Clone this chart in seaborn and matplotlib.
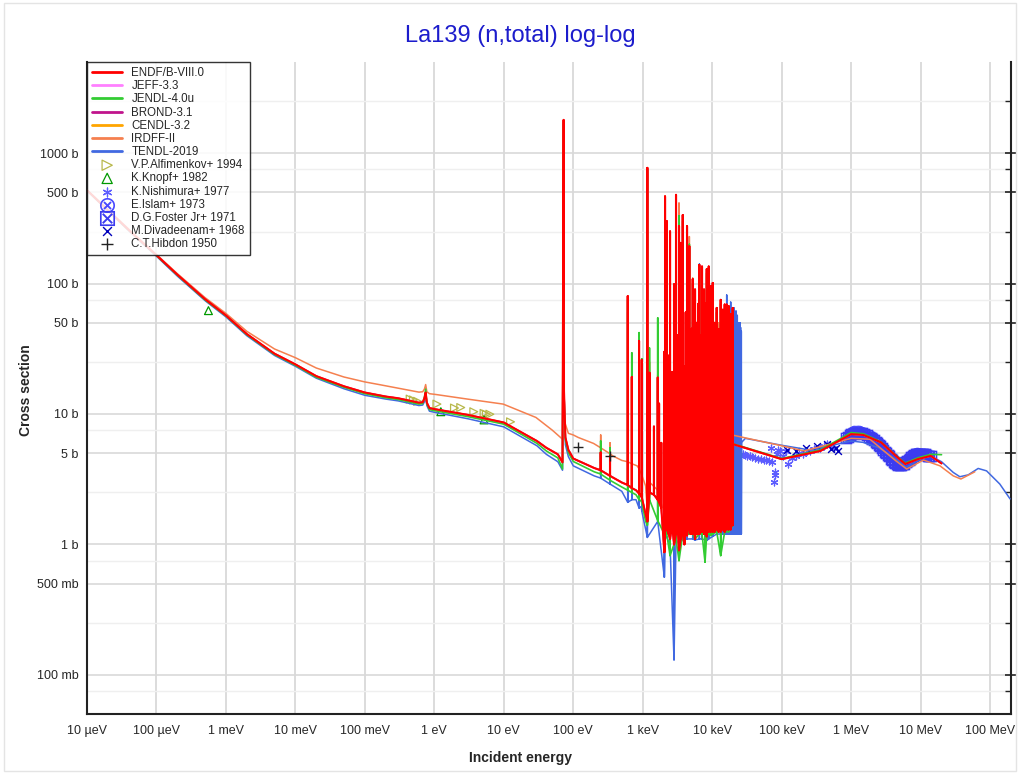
import matplotlib
matplotlib.use("Agg")
import numpy as np
import pandas as pd
import seaborn as sns
import matplotlib.pyplot as plt
from matplotlib.ticker import FixedLocator, NullFormatter, NullLocator
from matplotlib.patches import Rectangle

# energies in eV, cross sections in barn

# ENDF/B-VIII.0 smooth part
endf_E = [1e-5, 2e-5, 5e-5, 1e-4, 2e-4, 5e-4, 1e-3, 2e-3, 5e-3, 1e-2, 2e-2, 5e-2, 0.1, 0.2, 0.3,
          0.6, 0.68, 0.72, 0.75, 0.78, 0.85, 1.0, 3.0, 10, 30, 41,
          60, 70, 72.6, 73.5, 77, 85, 100, 200, 500, 800, 950, 1100,
          2.0e4, 1e5, 3.6e5, 1e6, 1.5e6, 2.7e6, 4.4e6, 6e6, 9.1e6, 1.4e7, 2e7]
endf_xs = [520, 365, 230, 165, 117, 76, 57, 41, 29, 24, 19.5, 16.3, 14.6, 13.6, 13.2,
           12.2, 12.3, 13.2, 14.6, 12.2, 11.1, 10.9, 9.85, 8.6, 6.2, 5.5,
           4.9, 4.25, 1800, 15, 6.6, 5.3, 4.55, 3.85, 2.98, 2.6, 2.35, 1.7,
           5.86, 4.5, 5.2, 7.0, 6.9, 6.05, 4.77, 4.13, 4.5, 4.77, 4.17]
# ENDF/B-VIII.0 resonances: energy, valley, peak
endf_res_E = [248, 338, 608, 695, 885, 968,
              1165, 1250, 1450, 1643, 1718, 1850, 2046, 2094, 2215, 2366, 2471, 2641, 2820, 3013,
              3150, 3327, 3523, 3650, 3764, 3970, 4150, 4340, 4686, 4909, 5080, 5241, 5450, 5658,
              5880, 6109, 6300, 6531, 6800, 7134, 7400, 7625, 7880, 8100, 8337, 8600, 8908, 9200,
              9512, 9800, 10165, 10500, 10860, 11200, 11600, 12000, 12400, 12800, 13250, 13700,
              14160, 14600, 15130, 15600, 16170, 16700, 17270, 17800, 18450, 19000, 19720]
endf_res_lo = [3.7, 3.35, 2.85, 2.7, 2.45, 2.3,
               1.5, 2.5, 2.4, 2.2, 2.1, 1.9, 0.87, 1.5, 1.3, 1.2, 1.1, 1.45, 1.0, 1.2,
               1.5, 0.9, 1.1, 1.6, 1.2, 1.0, 1.45, 1.17, 1.5, 1.2, 1.6, 1.2, 1.4, 1.1,
               1.55, 1.2, 1.45, 1.2, 1.35, 1.25, 1.6, 1.2, 1.45, 1.3, 1.15, 1.5, 1.25, 1.35,
               1.25, 1.5, 1.25, 1.4, 1.25, 1.55, 1.3, 1.45, 1.25, 1.3, 1.25, 1.5,
               1.3, 1.35, 1.25, 1.45, 1.3, 1.4, 1.3, 1.5, 1.3, 1.45, 1.4]
endf_res_hi = [5.06, 4.77, 80, 19.2, 36.3, 26,
               771, 20.7, 8, 19, 12, 6, 30, 465, 301, 28, 251, 21, 98.6, 479,
               40, 275, 205, 30, 335, 23, 60, 275, 193, 21, 45, 108, 35, 90,
               50, 28, 70, 139, 40, 135, 55, 90, 40, 70, 129, 50, 135, 45,
               95, 40, 101, 35, 50, 40, 65, 38, 44.6, 35, 75, 40,
               63, 35, 69, 45, 69, 40, 67, 45, 58, 50, 65]

# JENDL-4.0u
jendl_E = [1e-5, 2e-5, 5e-5, 1e-4, 2e-4, 5e-4, 1e-3, 2e-3, 5e-3, 1e-2, 2e-2, 5e-2, 0.1, 0.2, 0.3,
           0.6, 0.68, 0.72, 0.75, 0.78, 0.85, 1.0, 3.0, 10, 30, 41,
           60, 70, 72.6, 73.5, 77, 85, 100, 200, 500, 800, 950, 1100,
           2.0e4, 1e5, 3.6e5, 1e6, 1.5e6, 2.7e6, 4.4e6, 6e6, 9.1e6, 1.4e7, 2e7]
jendl_xs = [520, 364, 229, 164, 116, 75, 56.5, 40.5, 28.6, 23.6, 19.1, 16.0, 14.3, 13.3, 12.9,
            11.9, 12.0, 13.4, 15.5, 11.9, 10.8, 10.6, 9.55, 8.35, 5.95, 5.2,
            4.6, 3.78, 1750, 14, 6.3, 5.05, 4.32, 3.6, 2.75, 2.4, 2.15, 1.5,
            5.9, 4.55, 5.3, 7.2, 7.05, 6.1, 4.8, 4.2, 4.6, 4.9, 4.87]
jendl_res_E = [248, 338, 608, 695, 885, 968,
               1165, 1250, 1643, 2046, 2094, 2215, 2471, 2820, 3013, 3327, 3764, 4340, 4686, 5241,
               5658, 6531, 7134, 7880, 8337, 8908, 9512, 10165, 11600, 13250, 15130, 17270, 19720]
jendl_res_lo = [3.46, 3.1, 2.6, 2.5, 2.2, 2.1,
                1.4, 2.2, 1.52, 1.2, 1.3, 1.2, 0.82, 1.0, 1.1, 0.75, 1.2, 1.2, 1.2, 1.2,
                1.1, 1.2, 1.2, 0.73, 1.2, 1.2, 1.17, 1.2, 1.25, 0.82, 1.25, 1.25, 1.4]
jendl_res_hi = [6.2, 5.5, 75, 29.4, 42, 26.5,
                750, 32, 54.5, 30, 420, 280, 240, 95, 450, 330, 300, 260, 200, 100,
                85, 135, 125, 60, 120, 120, 95, 95, 60, 70, 60, 60, 55]

# TENDL-2019
tendl_E = [1e-5, 2e-5, 5e-5, 1e-4, 2e-4, 5e-4, 1e-3, 2e-3, 5e-3, 1e-2, 2e-2, 5e-2, 0.1, 0.2, 0.3,
           0.6, 0.68, 0.72, 0.75, 0.78, 0.85, 1.0, 3.0, 10, 30, 41,
           60, 70, 72.6, 73.5, 77, 85, 100, 200, 500, 800, 950, 1100,
           2.65e4, 3.0e4, 1e5, 2.5e5, 5e5, 1e6, 1.5e6, 2.5e6, 4.4e6, 6.2e6, 1e7, 1.4e7, 2e7,
           2.95e7, 3.67e7, 4.84e7, 6.74e7, 8.9e7, 1.38e8, 1.94e8]
tendl_xs = [515, 361, 227, 162, 114, 74, 55.5, 39.8, 28.1, 23.2, 18.8, 15.6, 13.9, 13.0, 12.6,
            11.6, 11.7, 12.4, 13.8, 11.6, 10.5, 10.3, 9.2, 7.96, 5.7, 4.9,
            4.3, 3.7, 1700, 12, 5.8, 4.7, 4.0, 3.35, 2.55, 2.2, 1.95, 1.3,
            6.05, 6.5, 5.75, 5.3, 5.7, 6.2, 6.05, 5.5, 4.5, 3.9, 4.5, 4.75, 4.3,
            3.56, 3.3, 3.41, 3.82, 3.66, 2.9, 2.23]
tendl_res_E = [248, 338, 608, 695, 885, 968,
               1165, 1643, 2046, 2094, 2471, 2820, 3013, 3327, 3764, 4340, 5241, 5658, 6531, 7134,
               8337, 8908, 10165, 11600, 13250, 14160, 15130, 16170, 17270, 18450, 19200, 19720,
               20100, 20590, 21000, 21500, 21990, 22500, 22950, 23500, 24060, 24500, 25100, 25600, 26230]
tendl_res_lo = [3.22, 2.9, 2.1, 2.2, 1.9, 1.8,
                1.13, 1.5, 0.56, 1.2, 1.0, 0.13, 1.1, 1.0, 1.1, 1.1, 1.1, 1.08, 1.1, 1.1,
                1.07, 1.1, 1.15, 1.2, 1.2, 1.2, 1.2, 1.2, 1.2, 1.2, 1.2, 1.25,
                1.2, 1.25, 1.2, 1.25, 1.2, 1.25, 1.2, 1.25, 1.2, 1.25, 1.2, 1.25, 1.2]
tendl_res_hi = [3.6, 4.0, 60, 18, 30, 24,
                700, 15, 25, 420, 230, 90, 430, 260, 335, 250, 100, 85, 141, 120,
                115, 120, 90, 60, 70, 60, 65, 81.6, 62, 72, 55, 65,
                55, 65, 50, 58, 61.5, 55, 57, 50, 48.6, 45, 50, 46, 43]

# IRDFF-II
irdff_E = [1e-5, 2e-5, 5e-5, 1e-4, 2e-4, 5e-4, 1e-3, 2e-3, 5e-3, 1e-2, 2e-2, 5e-2, 0.1, 0.17,
           0.6, 0.68, 0.72, 0.75, 0.78, 0.85, 1.05, 3.0, 9.8, 29, 50,
           70, 72.6, 73.5, 85, 100, 118, 196, 370, 500, 830, 1100,
           2.0e4, 1e5, 2.1e5, 1e6, 1.86e6, 4.4e6, 6.3e6, 1.1e7, 1.9e7, 2.95e7, 3.8e7, 6.03e7]
irdff_xs = [520, 368, 234, 167, 119, 78, 59, 43, 31.5, 27, 22.5, 19.2, 17.6, 16.7,
            14.7, 14.8, 15.5, 16.8, 14.8, 14.3, 14.1, 13.0, 11.9, 9.4, 7.5,
            6.4, 1800, 9, 7.1, 6.9, 6.6, 5.94, 4.77, 4.4, 4.0, 2.8,
            6.87, 5.7, 5.2, 6.5, 6.4, 4.37, 3.78, 4.43, 4.0, 3.35, 3.17, 3.6]
irdff_res_E = [248, 338, 608, 695, 885, 968,
               1165, 1250, 1643, 2094, 2215, 2471, 3013, 3327, 3764, 4686, 5241, 6531, 7134, 8337,
               8908, 10165, 12400, 15130, 17270, 19720]
irdff_res_lo = [5.5, 4.95, 4.3, 4.15, 3.8, 3.4,
                1.8, 3.0, 2.6, 1.6, 1.5, 1.4, 1.4, 1.2, 1.4, 1.4, 1.4, 1.4, 1.4, 1.4,
                1.4, 1.4, 1.4, 1.4, 1.4, 1.5]
irdff_res_hi = [6.9, 6.0, 80, 19, 36, 26,
                750, 25, 20, 470, 300, 250, 480, 414, 330, 229, 110, 135, 130, 125,
                130, 100, 50, 69, 67, 65]

# experimental data (EXFOR)
alfimenkov_E = [0.449, 0.50, 0.573, 1.09, 1.95, 2.4, 3.7, 5.2, 5.6, 6.3, 12.5]
alfimenkov_xs = [13.0, 12.8, 12.5, 11.9, 11.1, 11.2, 10.4, 10.1, 9.95, 9.95, 8.7]
knopf_E = [5.6e-4, 1.24, 5.2]
knopf_xs = [62, 10.4, 9.0]
nishimura_E = [2.8e4, 3.0e4, 3.2e4, 3.5e4, 3.8e4, 4.1e4, 4.5e4, 5.0e4, 5.5e4, 6.0e4, 6.6e4, 7.1e4, 7.3e4,
               7.7e4, 7.9e4, 8.1e4, 8.5e4, 8.8e4, 9.5e4, 1.05e5, 1.16e5, 1.25e5, 1.4e5, 1.6e5, 1.8e5,
               2.05e5, 2.3e5, 2.55e5, 2.9e5, 3.3e5, 3.6e5, 4.0e5, 4.5e5, 5.6e5]
nishimura_xs = [4.9, 4.85, 4.8, 4.75, 4.7, 4.6, 4.55, 4.5, 4.45, 4.4, 4.35, 5.5, 4.3,
                3.0, 3.6, 3.4, 4.9, 5.3, 5.2, 4.8, 5.2, 4.1, 4.6, 4.77, 5.0,
                4.92, 5.2, 5.2, 5.4, 5.5, 5.5, 5.7, 5.86, 5.5]
islam_E = [0.9e6, 0.95e6, 1.0e6, 1.05e6, 1.1e6, 1.2e6, 1.3e6, 1.4e6, 1.5e6, 1.65e6, 1.8e6, 2.0e6,
           2.2e6, 2.5e6, 2.75e6, 3.0e6, 3.35e6, 3.7e6, 4.1e6, 4.5e6, 5.0e6, 5.5e6, 6.1e6, 6.7e6,
           7.3e6, 8.0e6, 9.0e6]
islam_xs = [6.8, 6.95, 7.1, 7.25, 7.35, 7.45, 7.4, 7.3, 7.2, 7.0, 6.85, 6.6,
            6.3, 5.95, 5.6, 5.3, 4.95, 4.65, 4.4, 4.25, 4.2, 4.25, 4.35, 4.55,
            4.75, 4.9, 5.05]
foster_E = [0.85e6, 0.9e6, 0.95e6, 1.0e6, 1.05e6, 1.1e6, 1.15e6, 1.25e6, 1.35e6, 1.45e6, 1.55e6,
            1.7e6, 1.8e6, 1.9e6, 2.0e6, 2.1e6, 2.25e6, 2.35e6, 2.5e6, 2.6e6, 2.75e6, 2.9e6, 3.05e6,
            3.2e6, 3.35e6, 3.5e6, 3.7e6, 3.9e6, 4.1e6, 4.3e6, 4.55e6, 4.8e6, 5.05e6, 5.3e6, 5.55e6,
            5.8e6, 6.1e6, 6.4e6, 6.7e6, 7.0e6, 7.35e6, 7.7e6, 8.1e6, 8.5e6, 8.9e6, 9.4e6, 9.9e6,
            10.4e6, 11.0e6, 11.5e6, 12.1e6, 12.7e6, 13.3e6, 14.0e6]
foster_xs = [6.5, 6.7, 6.85, 7.0, 7.05, 7.15, 7.2, 7.2, 7.15, 7.1, 7.0,
             6.85, 6.7, 6.55, 6.45, 6.3, 6.1, 6.0, 5.8, 5.7, 5.5, 5.3, 5.15,
             5.0, 4.85, 4.75, 4.55, 4.4, 4.3, 4.2, 4.1, 4.05, 4.05, 4.05, 4.1,
             4.15, 4.25, 4.35, 4.45, 4.55, 4.65, 4.75, 4.85, 4.9, 4.95, 4.95, 4.95,
             4.95, 4.9, 4.9, 4.85, 4.8, 4.8, 4.75]
divadeenam_E = [1.2e5, 1.6e5, 2.25e5, 3.2e5, 4.5e5, 5.2e5, 6.0e5, 6.5e5]
divadeenam_xs = [5.3, 5.2, 5.5, 5.7, 5.86, 5.4, 5.5, 5.2]
hibdon_E = [118, 333]
hibdon_xs = [5.6, 4.75]

x_ticks = [1e-5, 1e-4, 1e-3, 1e-2, 1e-1, 1, 10, 100, 1e3, 1e4, 1e5, 1e6, 1e7, 1e8]
x_labels = ['10 µeV', '100 µeV', '1 meV', '10 meV', '100 meV', '1 eV', '10 eV', '100 eV',
            '1 keV', '10 keV', '100 keV', '1 MeV', '10 MeV', '100 MeV']
y_ticks = [0.1, 0.5, 1, 5, 10, 50, 100, 500, 1000]
y_labels = ['100 mb', '500 mb', '1 b', '5 b', '10 b', '50 b', '100 b', '500 b', '1000 b']
y_minor = [0.075, 0.25, 0.75, 2.5, 7.5, 25, 75, 250, 750, 2500]


def curve(bg_E, bg_xs, res_E, res_lo, res_hi):
    # smooth points plus a vertical valley-peak-valley stroke per resonance
    rows = [(e, 0, s) for e, s in zip(bg_E, bg_xs)]
    for e, lo, hi in zip(res_E, res_lo, res_hi):
        rows += [(e, 1, lo), (e, 2, hi), (e, 3, lo)]
    df = pd.DataFrame(rows, columns=['E', 'k', 'xs'])
    return df.sort_values(['E', 'k'], kind='mergesort')


sns.set_style('white')
plt.rcParams['font.family'] = ['Liberation Sans', 'DejaVu Sans']

fig = plt.figure(figsize=(10.2, 7.74), dpi=100)
ax = fig.add_axes([87 / 1020, 60 / 774, 924 / 1020, 652 / 774])
ax.set_xscale('log')
ax.set_yscale('log')

endf = curve(endf_E, endf_xs, endf_res_E, endf_res_lo, endf_res_hi)
libs = [
    ('TENDL-2019', curve(tendl_E, tendl_xs, tendl_res_E, tendl_res_lo, tendl_res_hi), '#4169e1', 1.1),
    ('IRDFF-II', curve(irdff_E, irdff_xs, irdff_res_E, irdff_res_lo, irdff_res_hi), '#f5804f', 1.1),
    # CENDL, BROND and JEFF coincide with ENDF at this scale
    ('CENDL-3.2', endf, '#ffa500', 1.1),
    ('BROND-3.1', endf, '#c0148c', 1.1),
    ('JEFF-3.3', endf, '#ff80ff', 1.1),
    ('JENDL-4.0u', curve(jendl_E, jendl_xs, jendl_res_E, jendl_res_lo, jendl_res_hi), '#33cc33', 1.2),
    ('ENDF/B-VIII.0', endf, '#ff0000', 1.5),
]
for i, (name, df, col, lw) in enumerate(libs):
    sns.lineplot(data=df, x='E', y='xs', sort=False, estimator=None, color=col,
                 linewidth=lw, label=name, ax=ax, zorder=3 + i * 0.1)

sns.scatterplot(x=alfimenkov_E, y=alfimenkov_xs, marker='>', s=32, color='#b8b84a',
                facecolor='none', edgecolor='#b8b84a', linewidth=0.9,
                label='V.P.Alfimenkov+ 1994', ax=ax, zorder=2.5)
sns.scatterplot(x=knopf_E, y=knopf_xs, marker='^', s=32, color='#009900',
                facecolor='none', edgecolor='#009900', linewidth=0.9,
                label='K.Knopf+ 1982', ax=ax, zorder=2.5)
sns.scatterplot(x=nishimura_E, y=nishimura_xs, marker=(6, 2, 0), s=24, color='#5c5cff',
                linewidth=0.9, label='K.Nishimura+ 1977', ax=ax, zorder=2.5)
sns.scatterplot(x=islam_E, y=islam_xs, marker='$\\otimes$', s=70, color='#4a4aff',
                edgecolor='#4a4aff', linewidth=0, label='E.Islam+ 1973', ax=ax, zorder=2.5)
sns.scatterplot(x=foster_E, y=foster_xs, marker='$\\boxtimes$', s=70, color='#3c3cf0',
                edgecolor='#3c3cf0', linewidth=0, label='D.G.Foster Jr+ 1971', ax=ax, zorder=2.5)
sns.scatterplot(x=divadeenam_E, y=divadeenam_xs, marker='x', s=24, color='#0000bb',
                linewidth=1.0, label='M.Divadeenam+ 1968', ax=ax, zorder=2.6)
sns.scatterplot(x=hibdon_E, y=hibdon_xs, marker='+', s=45, color='#222222',
                linewidth=1.0, label='C.T.Hibdon 1950', ax=ax, zorder=4)

ax.set_xlim(1e-5, 2e8)
ax.set_ylim(0.05, 5000)
ax.set_xticks(x_ticks, x_labels)
ax.xaxis.set_minor_locator(NullLocator())
ax.set_yticks(y_ticks, y_labels)
ax.yaxis.set_minor_locator(FixedLocator(y_minor))
ax.yaxis.set_minor_formatter(NullFormatter())
ax.tick_params(axis='both', which='major', labelsize=9, direction='inout', length=8,
               width=1.2, color='#222222', pad=4)
ax.tick_params(axis='y', which='major', pad=2)
ax.tick_params(axis='y', which='both', right=True)
ax.tick_params(axis='y', which='minor', direction='in', length=4, width=1.0, color='#222222')
ax.set_xlabel('')
ax.set_ylabel('')

ax.set_axisbelow(True)
ax.xaxis.grid(True, which='major', color='#d6d6d6', linewidth=1.2)
ax.yaxis.grid(True, which='major', color='#d9d9d9', linewidth=1.2)
ax.yaxis.grid(True, which='minor', color='#efefef', linewidth=1.0)
for side in ['left', 'bottom', 'right']:
    ax.spines[side].set_color('#222222')
    ax.spines[side].set_linewidth(1.5)
ax.spines['top'].set_visible(False)

order = ['ENDF/B-VIII.0', 'JEFF-3.3', 'JENDL-4.0u', 'BROND-3.1', 'CENDL-3.2', 'IRDFF-II',
         'TENDL-2019', 'V.P.Alfimenkov+ 1994', 'K.Knopf+ 1982', 'K.Nishimura+ 1977',
         'E.Islam+ 1973', 'D.G.Foster Jr+ 1971', 'M.Divadeenam+ 1968', 'C.T.Hibdon 1950']
handles, labels = ax.get_legend_handles_labels()
lookup = dict(zip(labels, handles))
leg = ax.legend([lookup[n] for n in order], order, loc='upper left', bbox_to_anchor=(0, 1),
                borderaxespad=0, fontsize=8.3, frameon=True, fancybox=False, edgecolor='#111111',
                framealpha=0.85, handlelength=2.6, handletextpad=0.8, labelspacing=0.1,
                borderpad=0.45, markerscale=1.3)
leg.get_frame().set_linewidth(1.0)
leg.set_zorder(10)
for line in leg.get_lines():
    line.set_linewidth(2.0)

fig.text(0.51, 0.953, 'La139 (n,total) log-log', ha='center', va='center',
         fontsize=17, color='#1c1ccc')
fig.text(0.51, 0.021, 'Incident energy', ha='center', va='center', fontsize=10, fontweight='bold')
fig.text(0.0255, 0.496, 'Cross section', ha='center', va='center', rotation=90,
         fontsize=10, fontweight='bold')
fig.patches.append(Rectangle((0.004, 0.004), 0.992, 0.992, transform=fig.transFigure,
                             fill=False, edgecolor='#e4e4e4', linewidth=1.0))

fig.savefig('out.png', dpi=100)
